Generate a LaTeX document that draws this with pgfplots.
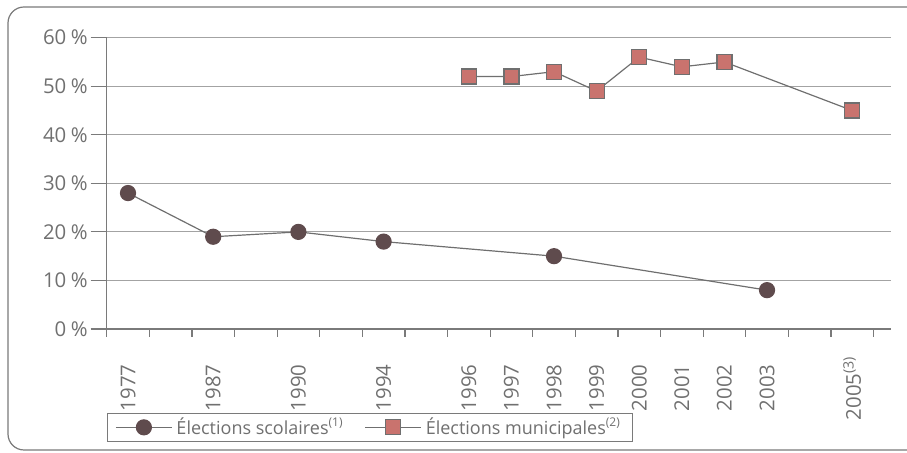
\documentclass[border=0pt]{standalone}
\usepackage{fontspec}
\setmainfont{Open Sans}
\usepackage{pgfplots}
\pgfplotsset{compat=1.18}
\definecolor{txt}{HTML}{707070}
\definecolor{gridc}{HTML}{A3A3A3}
\definecolor{axc}{HTML}{7A7A7A}
\definecolor{circ}{HTML}{5F4B4D}
\definecolor{sq}{HTML}{C9736E}
\definecolor{linec}{HTML}{6F6F6F}
\begin{document}
\begin{tikzpicture}
\useasboundingbox (0,0) rectangle (453.5pt,226.5pt);
\clip (0,0) rectangle (453.5pt,226.5pt);
\draw[axc, line width=0.6pt, rounded corners=8pt] (4pt,1.5pt) rectangle (480pt,223pt);
\begin{axis}[
  at={(53.35pt,62pt)}, anchor=south west,
  scale only axis, width=392.15pt, height=145.65pt,
  xmin=-0.5, xmax=17.91, ymin=0, ymax=60,
  axis lines*=left,
  axis line style={axc, line width=0.6pt},
  xtick={0,...,17},
  xticklabels={1977,,1987,,1990,,1994,,1996,1997,1998,1999,2000,2001,2002,2003,,2005\textsuperscript{(3)}},
  major x tick style={draw=none},
  minor xtick={-0.5,0.5,...,17.5},
  minor tick length=4pt,
  major tick length=8pt,
  tick align=outside,
  tick style={axc, line width=0.6pt},
  ytick={0,10,...,60},
  yticklabel={\pgfmathprintnumber{\tick}\hspace{0.22em}\%},
  /pgf/number format/assume math mode=true,
  ymajorgrids, grid style={gridc, line width=0.6pt},
  tick label style={font=\fontsize{10.2}{11}\selectfont, text=txt},
  yticklabel style={xshift=2pt},
  xticklabel style={rotate=90, anchor=center, xshift=-21.5pt},
  legend style={at={(axis description cs:0,-0.288)}, anchor=north west, draw=axc, line width=0.6pt,
    text=txt, font=\fontsize{9}{10}\selectfont, inner xsep=4pt, inner ysep=0.5pt,
    nodes={inner ysep=1.5pt}},
  legend columns=2,
  legend cell align=left,
  /tikz/every even column/.append style={column sep=8.5pt},
  legend image code/.code={\draw[#1, mark repeat=2, mark phase=2] plot coordinates {(0pt,0pt) (14pt,0pt) (28pt,0pt)};},
]
\addplot[color=linec, line width=0.6pt, mark=*, mark size=3.75pt, mark options={fill=circ, draw=circ}]
  coordinates {(0,28) (2,19) (4,20) (6,18) (10,15) (15,8)};
\addlegendentry{Élections scolaires\textsuperscript{(1)}}
\addplot[color=linec, line width=0.6pt, mark=square*, mark size=3.75pt, mark options={fill=sq, draw=linec}]
  coordinates {(8,52) (9,52) (10,53) (11,49) (12,56) (13,54) (14,55) (17,45)};
\addlegendentry{Élections municipales\textsuperscript{(2)}}
\end{axis}
\end{tikzpicture}
\end{document}
